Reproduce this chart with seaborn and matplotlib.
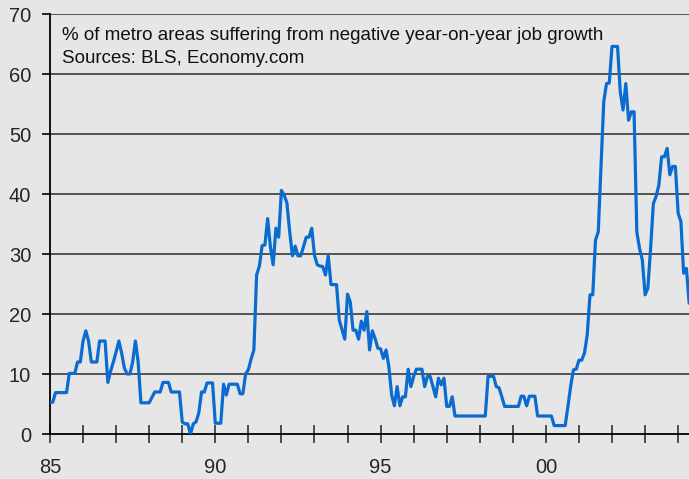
import numpy as np
import pandas as pd
import matplotlib
matplotlib.use("Agg")
import matplotlib.pyplot as plt
import seaborn as sns

# Monthly share of metro areas with negative year-on-year job growth, Jan 1985 onward
start_year = 1985
pct_negative = [
    5.3, 5.3, 6.9, 6.9, 6.9, 6.9, 6.9, 10.1, 10.1, 10.1, 12.0, 12.0,          # 1985
    15.5, 17.2, 15.5, 12.0, 12.0, 12.0, 15.5, 15.5, 15.5, 8.6, 10.5, 12.0,    # 1986
    13.7, 15.5, 13.5, 11.0, 10.0, 10.0, 12.0, 15.5, 12.0, 5.2, 5.2, 5.2,      # 1987
    5.2, 6.1, 7.0, 7.0, 7.0, 8.6, 8.6, 8.6, 7.0, 7.0, 7.0, 7.0,               # 1988
    2.0, 1.7, 1.7, 0.0, 1.7, 2.0, 3.5, 7.0, 7.0, 8.5, 8.5, 8.5,               # 1989
    1.8, 1.8, 1.8, 8.3, 6.5, 8.3, 8.3, 8.3, 8.3, 6.7, 6.7, 10.0,              # 1990
    10.7, 12.5, 14.0, 26.5, 28.0, 31.4, 31.5, 35.9, 31.2, 28.2, 34.3, 32.8,   # 1991
    40.6, 39.8, 38.5, 33.7, 29.7, 31.3, 29.7, 29.7, 31.2, 32.8, 32.8, 34.3,   # 1992
    29.8, 28.2, 28.0, 27.9, 26.5, 29.7, 24.9, 24.9, 24.9, 19.0, 17.4, 15.8,   # 1993
    23.3, 22.0, 17.3, 17.3, 15.8, 18.8, 17.3, 20.4, 14.0, 17.2, 15.9, 14.3,   # 1994
    14.2, 12.6, 14.0, 11.2, 6.5, 4.7, 7.9, 4.7, 6.2, 6.2, 10.8, 7.9,          # 1995
    9.6, 10.8, 10.8, 10.8, 7.9, 9.6, 9.6, 7.9, 6.2, 9.3, 8.2, 9.3,            # 1996
    4.6, 4.6, 6.2, 3.0, 3.0, 3.0, 3.0, 3.0, 3.0, 3.0, 3.0, 3.0,               # 1997
    3.0, 3.0, 3.0, 9.6, 9.6, 9.6, 7.9, 7.7, 6.2, 4.6, 4.6, 4.6,               # 1998
    4.6, 4.6, 4.6, 6.3, 6.3, 4.7, 6.3, 6.3, 6.3, 3.0, 3.0, 3.0,               # 1999
    3.0, 3.0, 3.0, 1.4, 1.4, 1.4, 1.4, 1.4, 4.6, 8.0, 10.7, 10.8,             # 2000
    12.3, 12.3, 13.5, 16.5, 23.2, 23.2, 32.3, 33.7, 44.5, 55.4, 58.4, 58.5,   # 2001
    64.6, 64.6, 64.6, 57.0, 54.0, 58.4, 52.3, 53.7, 53.7, 33.7, 30.9, 29.0,   # 2002
    23.2, 24.3, 30.9, 38.4, 39.6, 41.5, 46.2, 46.2, 47.6, 43.2, 44.6, 44.6,   # 2003
    36.8, 35.4, 26.8, 27.6, 21.8,                                             # 2004
]
y_ticks = [0, 10, 20, 30, 40, 50, 60, 70]
x_label_years = {1985: "85", 1990: "90", 1995: "95", 2000: "00"}
caption_lines = [
    "% of metro areas suffering from negative year-on-year job growth",
    "Sources: BLS, Economy.com",
]

df = pd.DataFrame({
    "year": start_year + np.arange(len(pct_negative)) / 12.0,
    "pct": pct_negative,
})

sns.set_theme(style="white")
plt.rcParams["font.family"] = ["Liberation Sans", "DejaVu Sans"]

bg = "#e6e6e6"
fig = plt.figure(figsize=(6.89, 4.79), dpi=100, facecolor=bg)
ax = fig.add_axes([50 / 689, 45 / 479, 1 - 50 / 689, 420 / 479])
ax.set_facecolor(bg)

for v in y_ticks[1:]:
    ax.axhline(v, color="#3a3a3a", lw=1.2, zorder=1)

sns.lineplot(data=df, x="year", y="pct", color="#0a6bd0", lw=2.3,
             ax=ax, zorder=3, legend=False)

ax.set_xlim(1985, 1985 + 639 / 33.06)
ax.set_ylim(0, 70)
ax.set_yticks(y_ticks)
ax.set_yticklabels([str(v) for v in y_ticks])
years = list(range(1985, 2005))
ax.set_xticks(years)
ax.set_xticklabels([x_label_years.get(y, "") for y in years])

ax.tick_params(axis="y", direction="out", length=6, width=1.2, color="black",
               labelsize=14.5, pad=7.5, left=True)
ax.tick_params(axis="x", direction="inout", length=13, width=1.2, color="#333333",
               labelsize=14.5, pad=10.5, bottom=True)
ax.set_xlabel("")
ax.set_ylabel("")

for side in ["top", "right"]:
    ax.spines[side].set_visible(False)
for side in ["left", "bottom"]:
    ax.spines[side].set_color("black")
    ax.spines[side].set_linewidth(1.3)

ax.text(12 / 639, 0.95, caption_lines[0], transform=ax.transAxes,
        fontsize=13.5, va="center", ha="left", color="#111111")
ax.text(12 / 639, 0.893, caption_lines[1], transform=ax.transAxes,
        fontsize=13.5, va="center", ha="left", color="#111111")

fig.savefig("out.png", dpi=100, facecolor=bg)
